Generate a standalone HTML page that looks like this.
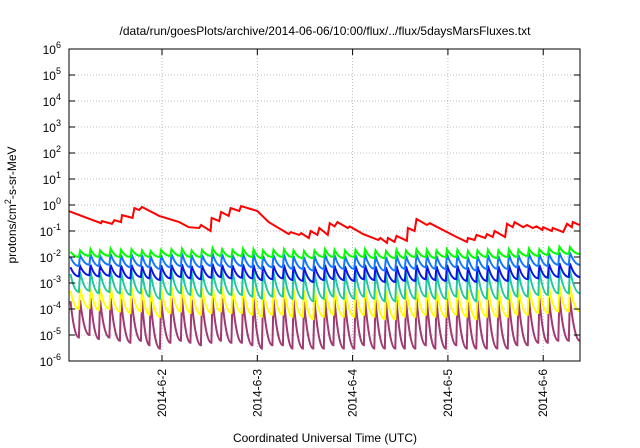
<!DOCTYPE html>
<html><head><meta charset="utf-8"><style>
html,body{margin:0;padding:0;background:#fff}
svg{display:block;font-family:"Liberation Sans",sans-serif}
</style></head><body>
<svg id="chart" width="640" height="448" viewBox="0 0 640 448">
<text x="325" y="35" text-anchor="middle" font-size="12">/data/run/goesPlots/archive/2014-06-06/10:00/flux/../flux/5daysMarsFluxes.txt</text>
<text transform="translate(16,205) rotate(-90)" text-anchor="middle" font-size="12">protons/cm<tspan dy="-5" font-size="9">2</tspan><tspan dy="5">-s-sr-MeV</tspan></text>
<text x="325" y="442" text-anchor="middle" font-size="12">Coordinated Universal Time (UTC)</text>
<g id="grid"></g><g id="series"></g><g id="axes"></g>
</svg>
<script>
const yExponents=[-6,-5,-4,-3,-2,-1,0,1,2,3,4,5,6];
const dayTicks=[2,3,4,5,6];
const dayLabels=["2014-6-2","2014-6-3","2014-6-4","2014-6-5","2014-6-6"];
const redTimes=[1.02,1.36,1.37,1.475,1.50,1.57,1.58,1.69,1.71,1.76,1.79,1.97,2.18,2.28,2.39,2.41,2.51,2.52,2.60,2.62,2.70,2.72,2.81,2.83,2.93,3.00,3.12,3.33,3.35,3.44,3.46,3.54,3.56,3.63,3.65,3.74,3.76,3.81,3.84,3.95,3.97,4.11,4.27,4.29,4.36,4.37,4.44,4.46,4.57,4.58,4.65,4.67,4.78,4.81,5.09,5.20,5.21,5.28,5.30,5.39,5.41,5.47,5.49,5.60,5.62,5.68,5.70,5.79,5.83,5.89,5.93,5.99,6.00,6.09,6.10,6.21,6.25,6.30,6.31,6.38];
const redValues=[0.59,0.20,0.24,0.19,0.26,0.22,0.41,0.32,0.77,0.64,0.84,0.38,0.22,0.14,0.13,0.17,0.10,0.32,0.24,0.54,0.38,0.77,0.59,0.91,0.70,0.59,0.22,0.076,0.091,0.071,0.083,0.054,0.10,0.071,0.13,0.071,0.20,0.15,0.22,0.13,0.15,0.076,0.045,0.054,0.035,0.054,0.038,0.065,0.042,0.13,0.10,0.29,0.17,0.20,0.059,0.038,0.054,0.045,0.071,0.054,0.076,0.059,0.10,0.059,0.19,0.14,0.22,0.14,0.17,0.13,0.15,0.11,0.14,0.10,0.13,0.091,0.19,0.14,0.22,0.17];
const peakTimes=[1.04,1.14,1.25,1.35,1.46,1.57,1.68,1.79,1.88,1.99,2.10,2.21,2.31,2.42,2.53,2.63,2.74,2.85,2.96,3.06,3.17,3.28,3.38,3.49,3.60,3.71,3.81,3.92,4.03,4.13,4.24,4.35,4.46,4.56,4.67,4.78,4.88,4.99,5.10,5.21,5.31,5.42,5.53,5.64,5.74,5.85,5.96,6.06,6.17,6.28];
const greenPeaks=[0.016,0.018,0.020,0.018,0.021,0.019,0.020,0.018,0.017,0.019,0.020,0.021,0.018,0.019,0.022,0.020,0.019,0.021,0.020,0.018,0.019,0.020,0.018,0.017,0.018,0.020,0.019,0.018,0.019,0.020,0.018,0.017,0.019,0.018,0.020,0.019,0.018,0.020,0.019,0.017,0.018,0.019,0.018,0.020,0.019,0.021,0.020,0.022,0.025,0.024];
const greenTroughs=[0.010,0.011,0.010,0.011,0.010,0.010,0.011,0.010,0.010,0.011,0.011,0.010,0.010,0.011,0.011,0.010,0.011,0.010,0.009,0.010,0.010,0.010,0.009,0.009,0.010,0.010,0.009,0.010,0.010,0.009,0.009,0.009,0.009,0.010,0.010,0.009,0.010,0.010,0.009,0.009,0.010,0.009,0.010,0.010,0.011,0.011,0.012,0.013,0.013,0.013];
const lblueTroughs=[0.0045,0.0050,0.0045,0.0050,0.0045,0.0040,0.0045,0.0040,0.0035,0.0040,0.0045,0.0040,0.0040,0.0045,0.0045,0.0040,0.0045,0.0040,0.0035,0.0040,0.0040,0.0035,0.0035,0.0030,0.0035,0.0040,0.0035,0.0035,0.0040,0.0035,0.0030,0.0030,0.0035,0.0035,0.0040,0.0035,0.0035,0.0040,0.0035,0.0030,0.0035,0.0035,0.0035,0.0040,0.0040,0.0045,0.0045,0.0050,0.0050,0.0050];
const lbluePeaks=[0.010,0.012,0.013,0.011,0.013,0.012,0.013,0.012,0.011,0.012,0.013,0.014,0.012,0.012,0.014,0.013,0.012,0.014,0.013,0.011,0.012,0.013,0.011,0.010,0.011,0.013,0.012,0.011,0.012,0.013,0.011,0.010,0.012,0.011,0.013,0.012,0.011,0.013,0.012,0.010,0.011,0.012,0.011,0.013,0.012,0.014,0.013,0.014,0.015,0.015];
const bluePeaks=[0.0040,0.0045,0.0050,0.0045,0.0050,0.0048,0.0050,0.0045,0.0042,0.0048,0.0050,0.0052,0.0046,0.0048,0.0055,0.0050,0.0048,0.0052,0.0050,0.0045,0.0047,0.0050,0.0045,0.0040,0.0045,0.0050,0.0047,0.0044,0.0046,0.0050,0.0044,0.0040,0.0046,0.0044,0.0050,0.0047,0.0044,0.0050,0.0047,0.0040,0.0044,0.0047,0.0044,0.0050,0.0047,0.0052,0.0050,0.0055,0.0058,0.0056];
const blueTroughs=[0.0018,0.0020,0.0018,0.0019,0.0017,0.0015,0.0017,0.0015,0.0013,0.0015,0.0017,0.0015,0.0014,0.0016,0.0017,0.0015,0.0016,0.0015,0.0013,0.0014,0.0015,0.0013,0.0012,0.0011,0.0013,0.0014,0.0013,0.0012,0.0014,0.0013,0.0011,0.0011,0.0012,0.0012,0.0014,0.0013,0.0012,0.0014,0.0012,0.0011,0.0012,0.0012,0.0012,0.0014,0.0014,0.0015,0.0016,0.0017,0.0017,0.0017];
const tealPeaks=[0.0022,0.0026,0.0030,0.0026,0.0030,0.0028,0.0030,0.0026,0.0024,0.0028,0.0030,0.0032,0.0027,0.0028,0.0032,0.0030,0.0028,0.0031,0.0030,0.0026,0.0027,0.0030,0.0026,0.0023,0.0026,0.0030,0.0027,0.0025,0.0027,0.0030,0.0025,0.0023,0.0027,0.0025,0.0030,0.0027,0.0025,0.0030,0.0027,0.0023,0.0025,0.0027,0.0025,0.0030,0.0027,0.0031,0.0030,0.0032,0.0034,0.0033];
const tealTroughs=[0.00045,0.00050,0.00040,0.00045,0.00040,0.00035,0.00040,0.00030,0.00025,0.00035,0.00040,0.00035,0.00030,0.00035,0.00040,0.00035,0.00035,0.00030,0.00025,0.00030,0.00030,0.00025,0.00025,0.00020,0.00025,0.00030,0.00025,0.00025,0.00030,0.00025,0.00020,0.00020,0.00025,0.00025,0.00030,0.00025,0.00025,0.00030,0.00025,0.00020,0.00025,0.00025,0.00025,0.00030,0.00030,0.00035,0.00035,0.00040,0.00040,0.00040];
const yellowPeaks=[0.00050,0.00060,0.00070,0.00060,0.00070,0.00065,0.00070,0.00060,0.00055,0.00065,0.00070,0.00075,0.00062,0.00065,0.00075,0.00070,0.00065,0.00072,0.00070,0.00060,0.00062,0.00070,0.00060,0.00052,0.00060,0.00070,0.00062,0.00058,0.00062,0.00070,0.00058,0.00052,0.00062,0.00058,0.00070,0.00062,0.00058,0.00070,0.00062,0.00052,0.00058,0.00062,0.00058,0.00070,0.00062,0.00072,0.00070,0.00075,0.00080,0.00078];
const yellowTroughs=[0.00010,0.00011,0.00009,0.00010,0.00008,0.00007,0.00008,0.00006,0.00005,0.00007,0.00008,0.00007,0.00006,0.00007,0.00008,0.00007,0.00007,0.00006,0.00005,0.00006,0.00006,0.00005,0.00005,0.00004,0.00005,0.00006,0.00005,0.00005,0.00006,0.00005,0.00004,0.00004,0.00005,0.00005,0.00006,0.00005,0.00005,0.00006,0.00005,0.00004,0.00005,0.00005,0.00005,0.00006,0.00006,0.00007,0.00007,0.00008,0.00008,0.00008];
const magentaPeaks=[0.00020,0.00022,0.00026,0.00022,0.00026,0.00024,0.00026,0.00022,0.00020,0.00024,0.00026,0.00028,0.00023,0.00024,0.00028,0.00026,0.00024,0.00027,0.00026,0.00022,0.00023,0.00026,0.00022,0.00019,0.00022,0.00026,0.00023,0.00021,0.00023,0.00026,0.00021,0.00019,0.00023,0.00021,0.00026,0.00023,0.00021,0.00026,0.00023,0.00019,0.00021,0.00023,0.00021,0.00026,0.00023,0.00027,0.00026,0.00028,0.00030,0.00029];
const magentaTroughs=[0.000008,0.000010,0.000007,0.000008,0.000006,0.000005,0.000006,0.000004,0.000003,0.000005,0.000006,0.000005,0.000004,0.000005,0.000006,0.000005,0.000005,0.000004,0.000003,0.000004,0.000004,0.000003,0.000003,0.000003,0.000003,0.000004,0.000003,0.000003,0.000004,0.000003,0.000003,0.000003,0.000003,0.000003,0.000004,0.000003,0.000003,0.000004,0.000003,0.000003,0.000003,0.000003,0.000003,0.000004,0.000004,0.000005,0.000005,0.000006,0.000006,0.000006];

const L=69,R=580,T=49,B=361,tMin=1.024,tMax=6.386,eMin=-6,eMax=6;
const NS="http://www.w3.org/2000/svg";
function xs(t){return L+(t-tMin)/(tMax-tMin)*(R-L);}
function ys(v){return B-(Math.log10(v)-eMin)/(eMax-eMin)*(B-T);}
function ye(e){return B-(e-eMin)/(eMax-eMin)*(B-T);}
function mk(tag,attrs,parent){const el=document.createElementNS(NS,tag);for(const k in attrs)el.setAttribute(k,attrs[k]);parent.appendChild(el);return el;}
const grid=document.getElementById('grid'),axes=document.getElementById('axes'),ser=document.getElementById('series');
yExponents.forEach(e=>{
  const y=ye(e);
  if(e>eMin&&e<eMax){const g=mk('line',{x1:L,x2:R,y1:y,y2:y,stroke:'#aaa','stroke-width':0.8,'stroke-dasharray':'1,2'},grid);
  
  }
  mk('line',{x1:L,x2:L+6,y1:y,y2:y,stroke:'#000'},axes);
  mk('line',{x1:R-6,x2:R,y1:y,y2:y,stroke:'#000'},axes);
  const t=mk('text',{x:L-8,y:y+5,'text-anchor':'end','font-size':12},axes);
  
  
  t.textContent='10';
  const s=mk('tspan',{dy:-6,'font-size':9},t);s.textContent=String(e);
});
dayTicks.forEach((d,i)=>{
  const x=xs(d);
  const g=mk('line',{x1:x,x2:x,y1:T,y2:B,stroke:'#aaa','stroke-width':0.8,'stroke-dasharray':'1,2'},grid);
  
  
  mk('line',{x1:x,x2:x,y1:B-6,y2:B,stroke:'#000'},axes);
  mk('line',{x1:x,x2:x,y1:T,y2:T+6,stroke:'#000'},axes);
  const t=mk('text',{transform:`translate(${x+4},${B+8}) rotate(-90)`,'text-anchor':'end','font-size':12},axes);
  
  
  t.textContent=dayLabels[i];
});
const frame=mk('rect',{x:L,y:T,width:R-L,height:B-T,fill:'none',stroke:'#000','stroke-width':1},axes);


function saw(peaks,troughs,color,name){
  let d='';
  for(let i=0;i<peakTimes.length;i++){
    const px=xs(peakTimes[i]),py=ys(peaks[i]);
    d+=(i===0?'M':'L')+px.toFixed(1)+','+py.toFixed(1);
    const tEnd=(i+1<peakTimes.length?peakTimes[i+1]-0.012:tMax);
    const ex=xs(tEnd),ey=ys(troughs[i]);
    const cx=px+(ex-px)*0.45;
    d+='Q'+cx.toFixed(1)+','+ey.toFixed(1)+' '+ex.toFixed(1)+','+ey.toFixed(1);
  }
  const p=mk('path',{d:d,fill:'none',stroke:color,'stroke-width':2,'stroke-linejoin':'miter'},ser);
  
  
}
saw(magentaPeaks,magentaTroughs,'#a03a72','series-magenta');
saw(yellowPeaks,yellowTroughs,'#ffff00','series-yellow');
saw(tealPeaks,tealTroughs,'#20c8a0','series-teal');
saw(bluePeaks,blueTroughs,'#0a14e6','series-blue');
saw(lbluePeaks,lblueTroughs,'#1478ff','series-light-blue');
saw(greenPeaks,greenTroughs,'#00ff00','series-green');
const rp=mk('polyline',{points:redTimes.map((t,i)=>xs(t).toFixed(1)+','+ys(redValues[i]).toFixed(1)).join(' '),fill:'none',stroke:'#ff0000','stroke-width':2},ser);


const cp=mk('clipPath',{id:'clip'},document.getElementById('chart'));
mk('rect',{x:L,y:T,width:R-L,height:B-T},cp);
ser.setAttribute('clip-path','url(#clip)');
</script>
</body></html>
